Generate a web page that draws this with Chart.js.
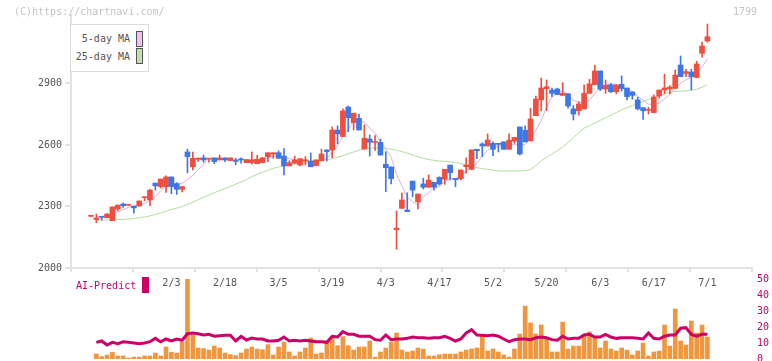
<!DOCTYPE html>
<html>
<head>
<meta charset="utf-8">
<script src="https://cdn.jsdelivr.net/npm/chart.js@4.4.1/dist/chart.umd.min.js"></script>
<style>
  body { margin: 0; background: #fff; width: 772px; height: 361px; overflow: hidden; position: relative; font-family: 'DejaVu Sans Mono', monospace; font-size: 10px; }
  canvas { position: absolute; left: 0; }
  #priceChart { top: 0; }
  #volChart { top: 268px; }
  .txt { position: absolute; line-height: 12px; white-space: nowrap; }
  .sw { position: absolute; box-sizing: border-box; }
</style>
</head>
<body>
<canvas id="priceChart" width="772" height="300"></canvas>
<canvas id="volChart" width="772" height="102"></canvas>

<div class="txt" style="left:14px; top:6px; color:#c4c4c4;">(C)https://chartnavi.com/</div>
<div class="txt" style="left:733px; top:6px; color:#c4c4c4;">1799</div>

<div class="sw" style="left:70px; top:24px; width:79px; height:48px; border:1px solid #dcdcdc; background:#fff;"></div>
<div class="txt" style="right:642px; top:33px; color:#555;">5-day MA</div>
<div class="sw" style="left:136px; top:31px; width:7px; height:16px; border:1px solid #555; background:#f0c0f0;"></div>
<div class="txt" style="right:642px; top:51px; color:#555;">25-day MA</div>
<div class="sw" style="left:136px; top:48px; width:7px; height:16px; border:1px solid #555; background:#c0e0b0;"></div>

<div class="txt" style="left:76px; top:280px; color:#cc0066;">AI-Predict</div>
<div class="sw" style="left:142px; top:277px; width:7px; height:16px; background:#cc0066;"></div>

<script>
// Daily candles (oldest first)
const open = [2252,2236,2249,2245,2231,2288,2312,2306,2302,2302,2343,2332,2414,2397,2397,2444,2411,2384,2566,2494,
  2530,2537,2531,2537,2527,2537,2524,2524,2532,2514,2514,2509,2514,2543,2556,2562,2546,2498,2511,2502,
  2523,2522,2499,2523,2576,2576,2673,2641,2785,2709,2730,2580,2629,2613,2613,2506,2493,2187,2291,2283,
  2424,2323,2410,2394,2418,2442,2433,2502,2437,2436,2494,2481,2579,2605,2595,2608,2608,2615,2579,2619,
  2688,2672,2620,2743,2820,2875,2868,2873,2842,2850,2776,2767,2776,2852,2894,2961,2873,2893,2860,2896,
  2878,2859,2820,2782,2769,2758,2839,2868,2873,2876,2990,2949,2956,2929,3047,3107];
const high = [2255,2263,2250,2265,2298,2307,2317,2307,2302,2327,2345,2384,2414,2434,2449,2444,2416,2397,2580,2566,
  2536,2551,2533,2537,2551,2537,2537,2535,2537,2530,2566,2550,2538,2562,2562,2571,2582,2523,2546,2533,
  2543,2561,2527,2580,2576,2688,2693,2776,2790,2755,2751,2698,2649,2646,2629,2567,2493,2278,2366,2367,
  2424,2361,2438,2454,2418,2445,2481,2502,2437,2478,2537,2576,2579,2611,2654,2616,2608,2615,2654,2637,
  2688,2693,2779,2839,2927,2917,2877,2877,2904,2850,2792,2811,2893,2920,2990,2961,2917,2901,2893,2937,
  2878,2859,2833,2782,2784,2844,2868,2945,2890,2966,3034,2969,2969,3008,3102,3190];
const low = [2250,2221,2234,2245,2231,2278,2296,2305,2267,2302,2328,2304,2380,2390,2369,2362,2359,2371,2465,2478,
  2520,2516,2516,2509,2527,2519,2524,2504,2511,2514,2507,2509,2514,2519,2535,2535,2454,2498,2511,2498,
  2502,2494,2499,2523,2522,2538,2606,2641,2665,2673,2673,2580,2546,2574,2551,2372,2410,2091,2291,2275,
  2348,2288,2385,2394,2380,2405,2408,2429,2397,2430,2462,2481,2533,2543,2595,2548,2566,2579,2579,2608,
  2551,2615,2620,2743,2767,2767,2836,2846,2842,2779,2722,2746,2776,2852,2894,2865,2852,2855,2849,2863,
  2820,2823,2771,2725,2751,2758,2828,2849,2849,2876,2933,2933,2868,2929,3028,3101];
const close = [2252,2244,2247,2263,2298,2307,2304,2306,2293,2327,2345,2380,2401,2434,2444,2397,2384,2397,2543,2535,
  2536,2527,2532,2519,2537,2527,2537,2520,2527,2528,2527,2530,2538,2562,2562,2535,2498,2514,2527,2533,
  2527,2494,2527,2556,2568,2673,2654,2766,2733,2755,2673,2633,2613,2616,2551,2489,2436,2194,2332,2275,
  2380,2361,2394,2429,2394,2410,2481,2465,2431,2478,2502,2576,2572,2595,2624,2579,2603,2579,2624,2637,
  2556,2615,2727,2824,2878,2884,2852,2846,2852,2790,2751,2800,2852,2898,2961,2873,2891,2860,2893,2875,
  2836,2842,2776,2767,2773,2834,2868,2878,2882,2941,2933,2958,2933,2995,3083,3128];

// Moving averages as drawn on the chart
const ma5 = [null,2250,2252,2255,2261,2272,2284,2296,2302,2307,2315,2330,2349,2377,2401,2411,2412,2411,2433,2451,
  2479,2508,2535,2530,2530,2528,2530,2528,2530,2528,2528,2526,2530,2537,2544,2545,2539,2534,2527,2521,
  2520,2519,2522,2527,2534,2564,2596,2643,2679,2716,2716,2712,2682,2658,2617,2580,2541,2457,2400,2345,
  2323,2308,2348,2368,2392,2398,2422,2436,2436,2453,2471,2490,2512,2545,2574,2589,2595,2596,2602,2604,
  2600,2602,2632,2672,2720,2786,2833,2857,2862,2845,2818,2808,2809,2818,2852,2877,2895,2897,2896,2878,
  2871,2861,2838,2819,2799,2798,2804,2824,2847,2881,2900,2918,2929,2952,2980,3019];
const ma25 = [null,2234,2234,2235,2235,2236,2237,2239,2241,2245,2249,2254,2261,2268,2277,2285,2292,2300,2310,2321,
  2333,2345,2356,2367,2377,2387,2398,2409,2420,2432,2445,2457,2467,2477,2486,2493,2497,2501,2505,2509,
  2513,2517,2521,2525,2529,2533,2540,2548,2557,2566,2575,2582,2584,2585,2585,2584,2580,2574,2568,2560,
  2551,2542,2535,2529,2525,2522,2520,2518,2515,2510,2503,2496,2490,2485,2481,2477,2474,2473,2473,2473,
  2474,2475,2480,2500,2523,2540,2556,2572,2590,2612,2637,2660,2682,2695,2706,2720,2733,2745,2758,2772,
  2782,2792,2802,2812,2822,2832,2841,2850,2857,2861,2862,2864,2866,2872,2882,2893];

// Volume and AI-Predict (lower panel)
const volume = [null,3.1,1.5,2.5,4.2,1.9,1.9,0.6,1.2,1.2,1.9,1.9,3.75,1.9,7.5,4.2,3.75,10.6,50,15,
  6.9,6.5,5.6,8.1,6.9,3.75,2.7,2.1,3.75,6.25,7.5,6.25,5.8,9,2.5,7.5,10.6,4.4,1.9,4.4,
  6.9,13.1,3.1,3.75,11.25,13.1,8.3,14,8.3,5.6,7.5,7.5,11.25,1.25,4.4,6.9,10.6,16.25,5.6,4.4,
  5,6.9,6.25,1.9,1.9,2.7,3.1,3.1,3.1,4.4,5.6,6.25,6.9,15,5,6.25,4.4,2.5,1.25,6.25,
  15.6,33,22.5,15.6,21.25,12.5,4.4,4.4,23.1,6.25,8.1,8.1,14.4,16.9,13.75,6.9,11.25,6.25,5,6.9,
  5.6,2.5,5,10,1.9,4.4,5,21.25,8.1,31.25,11.25,8.75,23.75,16.25,21.25,13.75];
const aiPredict = [null,10.4,11.25,8.75,10.4,9.6,10.8,10.4,10,9.6,10,10.8,12.9,10.8,12.5,11.25,12.5,11.7,15.8,16.25,
  15.8,15,15.4,14.2,14.6,14.8,14.8,11.25,14.2,11.9,13.1,12.5,12.5,11.25,11.25,11.7,13.75,11.25,11.7,11.25,
  11.7,11.25,10.8,10.8,10.4,14.2,13.75,17.1,15.4,15.4,14.2,14.2,14.2,12.1,11.7,15,12.1,12.5,12.5,12.9,
  13.75,13.3,13.3,12.9,13.3,13.3,14.2,12.9,11.25,12.5,16.25,18.3,15,14.8,14.6,15,14.2,12.5,10.8,12.1,
  12.5,12.5,12.1,13.3,13.75,13.3,12.1,11.7,14.2,12.5,12.9,12.9,15,15.4,13.75,13.75,15.4,13.75,12.9,13.3,
  13.3,13.3,12.9,12.5,16.25,12.9,12.5,14.2,15,15,19.2,19.6,15.4,14.2,15.4,15.4];

// Date labels and the candle they sit under
const dateLabels = ["2/3","2/18","3/5","3/19","4/3","4/17","5/2","5/20","6/3","6/17","7/1"];
const dateIndex = [16,26,36,46,56,66,76,86,96,106,116];

const priceTicks = [2000, 2300, 2600, 2900];
const volTicks = [0, 10, 20, 30, 40, 50];

const UP = "#f04e3e";
const DOWN = "#3f78e6";
const X_MIN = -2.73;
const X_MAX = 124.32;

Chart.defaults.font.family = "'DejaVu Sans Mono', monospace";
Chart.defaults.font.size = 10;
Chart.defaults.color = "#555";

const candleColor = close.map((c, i) => c >= open[i] ? UP : DOWN);
const wicks = close.map((c, i) => ({ x: i + 1, y: [low[i], high[i]] }));
const bodies = close.map((c, i) => ({ x: i + 1, y: [open[i], c] }));
const toPoints = arr => arr.map((v, i) => ({ x: i + 1, y: v }));

new Chart(document.getElementById("priceChart"), {
    type: "bar",
    data: {
        datasets: [
            { type: "line", data: toPoints(ma5), borderColor: "#e2aae8", borderWidth: 1, pointRadius: 0, order: 3 },
            { type: "line", data: toPoints(ma25), borderColor: "#b4dca4", borderWidth: 1, pointRadius: 0, order: 4 },
            { data: wicks, backgroundColor: candleColor, barThickness: 1, grouped: false, order: 2 },
            { data: bodies, backgroundColor: candleColor, barThickness: 5, grouped: false, minBarLength: 1, order: 1 }
        ]
    },
    options: {
        responsive: false,
        animation: false,
        devicePixelRatio: 1,
        layout: { padding: { top: 15, right: 20, bottom: 0, left: 0 } },
        plugins: { legend: { display: false }, tooltip: { enabled: false } },
        scales: {
            x: {
                type: "linear", min: X_MIN, max: X_MAX, offset: false, weight: 0,
                afterBuildTicks: s => {
                    // 11 even divisions along the axis
                    s.ticks = [];
                    for (let j = 0; j <= 11; j++) s.ticks.push({ value: X_MIN + j * (X_MAX - X_MIN) / 11 });
                },
                afterFit: s => { s.height = 6; },
                ticks: { display: false },
                grid: { drawOnChartArea: false, drawTicks: true, tickLength: 4, color: "#e2e2e2", lineWidth: 2, offset: false },
                border: { display: true, color: "#e2e2e2", width: 2 }
            },
            xd: {
                type: "linear", position: "bottom", min: X_MIN, max: X_MAX, offset: false, weight: 1,
                afterBuildTicks: s => { s.ticks = dateIndex.map(v => ({ value: v })); },
                afterFit: s => { s.height = 26; },
                ticks: {
                    autoSkip: false, maxRotation: 0, padding: 3, color: "#555",
                    callback: v => dateLabels[dateIndex.indexOf(v)]
                },
                grid: { display: false, drawTicks: false },
                border: { display: false }
            },
            y: {
                position: "left", min: 2000, max: 3234,
                afterBuildTicks: s => { s.ticks = priceTicks.map(v => ({ value: v })); },
                afterFit: s => { s.width = 71; },
                ticks: { padding: 3, color: "#555", callback: v => String(v) },
                grid: { drawOnChartArea: false, drawTicks: true, tickLength: 6, color: "#e2e2e2", lineWidth: 2 },
                border: { display: true, color: "#e2e2e2", width: 2 }
            }
        }
    }
});

new Chart(document.getElementById("volChart"), {
    type: "bar",
    data: {
        datasets: [
            { type: "line", data: toPoints(aiPredict), borderColor: "#cc0066", borderWidth: 3, pointRadius: 0, yAxisID: "v", order: 0 },
            { data: toPoints(volume), backgroundColor: "#f0963e", barThickness: 4, yAxisID: "v", order: 1 }
        ]
    },
    options: {
        responsive: false,
        animation: false,
        devicePixelRatio: 1,
        layout: { padding: { top: 8, right: 0, bottom: 0, left: 71 } },
        plugins: { legend: { display: false }, tooltip: { enabled: false } },
        scales: {
            x: { type: "linear", min: X_MIN, max: X_MAX, offset: false, display: false },
            v: {
                position: "right", min: 0, max: 50,
                afterBuildTicks: s => { s.ticks = volTicks.map(v => ({ value: v })); },
                afterFit: s => { s.width = 20; },
                ticks: { padding: 5, color: "#cc0066", callback: v => String(v) },
                grid: { display: false, drawTicks: false },
                border: { display: false }
            }
        }
    }
});
</script>
</body>
</html>
